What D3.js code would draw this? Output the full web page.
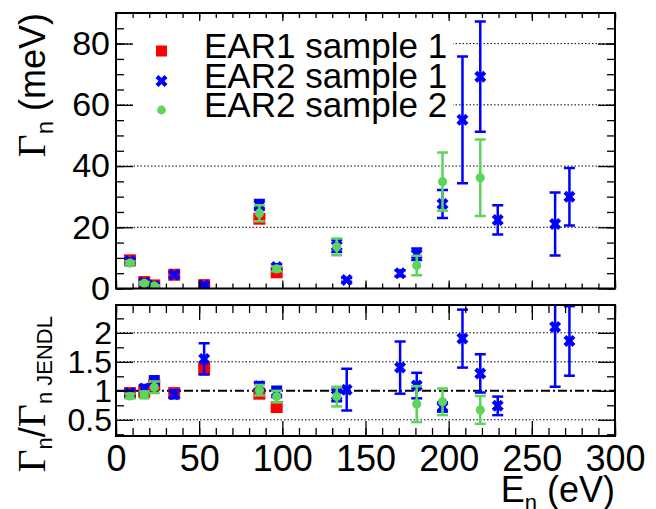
<!DOCTYPE html>
<html>
<head>
<meta charset="utf-8">
<script src="https://cdn.jsdelivr.net/npm/d3@7"></script>
<style>
  body { margin: 0; background: #fff; }
  svg { display: block; font-family: "Liberation Sans", Arial, sans-serif; }
</style>
</head>
<body>
<div id="chart"></div>
<script>
// EAR1 sample 1
const ear1E     = [8.4, 17, 23, 35, 53, 86.2, 96.6];
const ear1G     = [9.2, 2.1, 1.0, 4.5, 1.1, 22.8, 5.3];
const ear1Ratio = [0.96, 0.98, 1.1, 0.96, 1.38, 0.95, 0.72];

// EAR2 sample 1
const ear2s1E        = [8.4, 17, 23, 35, 53, 86.2, 96.6, 132.7, 138.7, 170.8, 180.8, 196.3, 208.3, 219, 229.5, 264, 272.6];
const ear2s1G        = [9.0, 2.0, 0.9, 4.5, 1.1, 27.3, 7.0, 13.9, 2.8, 5.0, 11.2, 27.6, 55.1, 69.2, 22.4, 21.1, 30.0];
const ear2s1GErr     = [0.6, 0.5, 0.4, 0.8, 0.5, 1.6, 0.9, 2.0, 0.6, 1.0, 1.9, 4.6, 20.7, 18.0, 4.8, 10.3, 9.4];
const ear2s1Ratio    = [0.96, 1.04, 1.17, 0.94, 1.55, 1.08, 0.98, 0.92, 1.02, 1.40, 1.09, 0.72, 1.90, 1.30, 0.74, 2.10, 1.86];
const ear2s1RatioErr = [0.05, 0.06, 0.08, 0.07, 0.27, 0.07, 0.09, 0.10, 0.36, 0.45, 0.22, 0.08, 0.50, 0.33, 0.16, 1.03, 0.60];

// EAR2 sample 2
const ear2s2E        = [8.4, 17, 23, 86.2, 96.6, 132.7, 180.8, 196.3, 219];
const ear2s2G        = [8.3, 1.7, 0.8, 24.6, 6.4, 13.6, 7.5, 34.9, 36.2];
const ear2s2GErr     = [0.5, 0.4, 0.3, 2.6, 0.8, 2.7, 3.2, 9.5, 12.5];
const ear2s2Ratio    = [0.91, 0.93, 1.06, 1.01, 0.90, 0.90, 0.77, 0.81, 0.67];
const ear2s2RatioErr = [0.04, 0.06, 0.10, 0.09, 0.10, 0.17, 0.31, 0.23, 0.24];

const xTicks      = [0, 50, 100, 150, 200, 250, 300];
const topYTicks   = [0, 20, 40, 60, 80];
const botYTicks   = [0.5, 1, 1.5, 2];
const legendNames = ["EAR1 sample 1", "EAR2 sample 1", "EAR2 sample 2"];

const width = 656, height = 509;
const red = "#ff0000", blue = "#0000ff", green = "#5dd55d";

const svg = d3.select("#chart").append("svg")
  .attr("width", width).attr("height", height);

const x = d3.scaleLinear().domain([0, 300]).range([116, 615]);
const yTop = d3.scaleLinear().domain([0, 90]).range([288.5, 13]);
const yBot = d3.scaleLinear().domain([0.22, 2.48]).range([436, 305]);

const panels = [
  { y: yTop, id: "clipTop" },
  { y: yBot, id: "clipBot" }
];
const defs = svg.append("defs");
panels.forEach(p => {
  const [y0, y1] = p.y.range();
  defs.append("clipPath").attr("id", p.id).append("rect")
    .attr("x", x(0)).attr("y", y1).attr("width", x(300) - x(0)).attr("height", y0 - y1);
});

// grid lines
function grid(yScale, values) {
  svg.append("g").selectAll("line").data(values).join("line")
    .attr("x1", x(0)).attr("x2", x(300))
    .attr("y1", d => yScale(d)).attr("y2", d => yScale(d))
    .attr("stroke", "#000").attr("stroke-width", 1).attr("stroke-dasharray", "1.5,2");
}
grid(yTop, [20, 40, 60, 80]);
grid(yBot, [0.5, 1.5, 2]);

svg.append("line")
  .attr("x1", x(0)).attr("x2", x(300)).attr("y1", yBot(1)).attr("y2", yBot(1))
  .attr("stroke", "#000").attr("stroke-width", 2).attr("stroke-dasharray", "9,3,2,3");

// legend box hides grid lines behind it
svg.append("rect").attr("x", 133).attr("y", 20).attr("width", 320).attr("height", 105).attr("fill", "#fff");

function errorBars(g, E, V, err, yScale, color) {
  const sel = g.append("g").attr("stroke", color).attr("stroke-width", 2.5);
  E.forEach((e, i) => {
    if (!err || !err[i]) return;
    const cx = x(e), lo = yScale(V[i] - err[i]), hi = yScale(V[i] + err[i]);
    sel.append("line").attr("x1", cx).attr("x2", cx).attr("y1", lo).attr("y2", hi);
    sel.append("line").attr("x1", cx - 5.5).attr("x2", cx + 5.5).attr("y1", lo).attr("y2", lo);
    sel.append("line").attr("x1", cx - 5.5).attr("x2", cx + 5.5).attr("y1", hi).attr("y2", hi);
  });
}

const xSymbol = d3.symbol().type(d3.symbolCross).size(90);

function squares(g, E, V, yScale, s) {
  g.append("g").selectAll("rect").data(E).join("rect")
    .attr("x", d => x(d) - s / 2).attr("y", (d, i) => yScale(V[i]) - s / 2)
    .attr("width", s).attr("height", s).attr("fill", red);
}
function crosses(g, E, V, yScale) {
  g.append("g").selectAll("path").data(E).join("path")
    .attr("d", xSymbol)
    .attr("transform", (d, i) => `translate(${x(d)},${yScale(V[i])}) rotate(45)`)
    .attr("fill", blue);
}
function dots(g, E, V, yScale) {
  g.append("g").selectAll("circle").data(E).join("circle")
    .attr("cx", d => x(d)).attr("cy", (d, i) => yScale(V[i])).attr("r", 4.6)
    .attr("fill", green);
}

function drawPanel(yScale, clip, redV, blueV, blueErr, greenV, greenErr) {
  const g = svg.append("g").attr("clip-path", `url(#${clip})`);
  squares(g, ear1E, redV, yScale, 12);
  errorBars(g, ear2s1E, blueV, blueErr, yScale, blue);
  crosses(g, ear2s1E, blueV, yScale);
  errorBars(g, ear2s2E, greenV, greenErr, yScale, green);
  dots(g, ear2s2E, greenV, yScale);
}
drawPanel(yTop, "clipTop", ear1G, ear2s1G, ear2s1GErr, ear2s2G, ear2s2GErr);
drawPanel(yBot, "clipBot", ear1Ratio, ear2s1Ratio, ear2s1RatioErr, ear2s2Ratio, ear2s2RatioErr);

// ticks on all four sides, ROOT style (inward)
function ticks(axis, transform, values, size) {
  const g = svg.append("g").attr("transform", transform)
    .call(axis.tickValues(values).tickSize(size).tickFormat(""));
  g.select(".domain").remove();
  g.selectAll("line").attr("stroke", "#000").attr("stroke-width", 1.3);
  return g;
}
const xMinor = d3.range(0, 301, 10);

// top panel
ticks(d3.axisBottom(x), `translate(0,${yTop(0)})`, xMinor, -5);
ticks(d3.axisBottom(x), `translate(0,${yTop(0)})`, xTicks, -8);
ticks(d3.axisTop(x), `translate(0,${yTop(90)})`, xMinor, -5);
ticks(d3.axisTop(x), `translate(0,${yTop(90)})`, xTicks, -8);
ticks(d3.axisLeft(yTop), `translate(${x(0)},0)`, d3.range(0, 90, 5), -8);
ticks(d3.axisRight(yTop), `translate(${x(300)},0)`, d3.range(0, 90, 5), -8);
ticks(d3.axisRight(yTop), `translate(${x(300)},0)`, topYTicks, -17);
const topLeft = svg.append("g").attr("transform", `translate(${x(0)},0)`)
  .call(d3.axisLeft(yTop).tickValues(topYTicks).tickSize(-17).tickPadding(6));
topLeft.select(".domain").remove();
topLeft.selectAll("line").attr("stroke-width", 1.3);
topLeft.selectAll("text").attr("font-size", 34).attr("font-family", "Liberation Sans, Arial, sans-serif").attr("fill", "#000");

// bottom panel
ticks(d3.axisTop(x), `translate(0,${yBot(2.48)})`, xMinor, -8);
ticks(d3.axisTop(x), `translate(0,${yBot(2.48)})`, xTicks, -15);
ticks(d3.axisBottom(x), `translate(0,${yBot(0.22)})`, xMinor, -8);
ticks(d3.axisLeft(yBot), `translate(${x(0)},0)`, [0.25, 0.75, 1.25, 1.75, 2.25], -8);
ticks(d3.axisRight(yBot), `translate(${x(300)},0)`, [0.25, 0.75, 1.25, 1.75, 2.25], -8);
ticks(d3.axisRight(yBot), `translate(${x(300)},0)`, botYTicks, -17);
const botLeft = svg.append("g").attr("transform", `translate(${x(0)},0)`)
  .call(d3.axisLeft(yBot).tickValues(botYTicks).tickSize(-17).tickPadding(4).tickFormat(d3.format("~g")));
botLeft.select(".domain").remove();
botLeft.selectAll("line").attr("stroke-width", 1.3);
botLeft.selectAll("text").attr("font-size", 32).attr("font-family", "Liberation Sans, Arial, sans-serif").attr("fill", "#000");
const botX = svg.append("g").attr("transform", `translate(0,${yBot(0.22)})`)
  .call(d3.axisBottom(x).tickValues(xTicks).tickSize(-15).tickPadding(9));
botX.select(".domain").remove();
botX.selectAll("line").attr("stroke-width", 1.3);
botX.selectAll("text").attr("font-size", 36).attr("font-family", "Liberation Sans, Arial, sans-serif").attr("fill", "#000");

// frames
panels.forEach(p => {
  const [y0, y1] = p.y.range();
  svg.append("rect").attr("x", x(0)).attr("y", y1).attr("width", x(300) - x(0)).attr("height", y0 - y1)
    .attr("fill", "none").attr("stroke", "#000").attr("stroke-width", 2);
});

// axis titles
const serif = "Liberation Serif, Times New Roman, serif";
const t1 = svg.append("text").attr("transform", "translate(45,13) rotate(-90)")
  .attr("text-anchor", "end").attr("font-size", 36);
t1.append("tspan").attr("font-family", serif).attr("font-size", 40).text("Γ");
t1.append("tspan").attr("font-size", 24).attr("dy", 8).text("n");
t1.append("tspan").attr("dy", -8).text(" (meV)");

const t2 = svg.append("text").attr("transform", "translate(45,316) rotate(-90)")
  .attr("text-anchor", "end").attr("font-size", 36);
t2.append("tspan").attr("font-family", serif).attr("font-size", 40).text("Γ");
t2.append("tspan").attr("font-size", 22).attr("dy", 7).text("n");
t2.append("tspan").attr("dy", -7).text("/");
t2.append("tspan").attr("font-family", serif).attr("font-size", 40).text("Γ");
t2.append("tspan").attr("font-size", 22).attr("dy", 7).text("n JENDL");

const t3 = svg.append("text").attr("x", 615).attr("y", 502)
  .attr("text-anchor", "end").attr("font-size", 36);
t3.append("tspan").text("E");
t3.append("tspan").attr("font-size", 22).attr("dy", 8).text("n");
t3.append("tspan").attr("dy", -8).text(" (eV)");

// legend
const legY = [51, 81, 110];
const leg = svg.append("g");
leg.append("rect").attr("x", 156).attr("y", legY[0] - 5.5).attr("width", 11).attr("height", 11).attr("fill", red);
leg.append("path").attr("d", xSymbol).attr("transform", `translate(161.5,${legY[1]}) rotate(45)`).attr("fill", blue);
leg.append("circle").attr("cx", 161.5).attr("cy", legY[2]).attr("r", 4.4).attr("fill", green);
leg.selectAll("text").data(legendNames).join("text")
  .attr("x", 204).attr("y", (d, i) => legY[i] + 7).attr("font-size", 35).text(d => d);
</script>
</body>
</html>
